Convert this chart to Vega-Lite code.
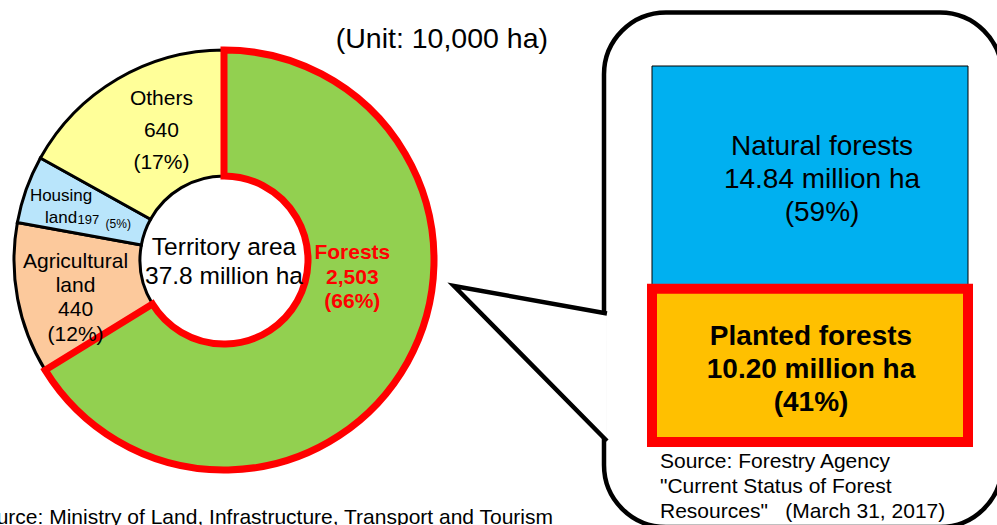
{
  "$schema": "https://vega.github.io/schema/vega-lite/v6.json",
  "width": 997,
  "height": 525,
  "padding": 0,
  "autosize": {"type": "none"},
  "background": "white",
  "config": {"view": {"stroke": null}, "font": "Liberation Sans", "text": {"font": "Liberation Sans"}},
  "datasets": {
    "land": [
      {"category": "Agricultural land", "value": 440, "rank": 2, "label": "Agricultural\nland\n440\n(12%)", "amount": "440", "share": "(12%)"},
      {"category": "Housing land", "value": 197, "rank": 3, "label": "Housing\nland", "amount": "197", "share": "(5%)"},
      {"category": "Others", "value": 640, "rank": 4, "label": "Others\n640\n(17%)", "amount": "640", "share": "(17%)"},
      {"category": "Forests", "value": 2503, "rank": 1, "label": "Forests\n2,503\n(66%)", "amount": "2,503", "share": "(66%)"}
    ],
    "forest": [
      {"group": "Forests", "type": "Natural forests", "value": 1484, "label": "Natural forests\n14.84 million ha\n(59%)"},
      {"group": "Forests", "type": "Planted forests", "value": 1020, "label": "Planted forests\n10.20 million ha\n(41%)"}
    ],
    "note": [{}]
  },
  "layer": [
    {
      "data": {"name": "note"},
      "mark": {"type": "rect", "x": 604, "x2": 1002, "y": 12.5, "y2": 527, "cornerRadius": 62, "fill": "white", "stroke": "black", "strokeWidth": 4.5},
      "encoding": {}
    },
    {
      "data": {"name": "note"},
      "mark": {"type": "point", "x": 454, "y": 286, "shape": "M 0.956 0.172 L 0 0 L 0.956 0.969", "size": 102400, "filled": true, "fill": "white", "stroke": "black", "strokeWidth": 4.5, "opacity": 1, "fillOpacity": 1, "strokeOpacity": 1, "strokeJoin": "miter"},
      "encoding": {}
    },
    {
      "data": {"name": "land"},
      "mark": {"type": "arc", "x": 224, "y": 260, "outerRadius": 210, "innerRadius": 84, "strokeJoin": "miter"},
      "encoding": {
        "theta": {"field": "value", "type": "quantitative", "stack": true},
        "order": {"field": "rank", "type": "quantitative"},
        "color": {"field": "category", "type": "nominal", "legend": null,
          "scale": {"domain": ["Forests", "Agricultural land", "Housing land", "Others", "Natural forests", "Planted forests"], "range": ["#92d050", "#fcc99c", "#b9e5fb", "#ffff99", "#00b0f0", "#ffc000"]}},
        "stroke": {"condition": {"test": "datum.category === 'Forests'", "value": "#ff0000"}, "value": "#000000"},
        "strokeWidth": {"condition": {"test": "datum.category === 'Forests'", "value": 7}, "value": 3}
      }
    },
    {
      "data": {"name": "land"},
      "mark": {"type": "text", "x": 224, "y": 260, "radius": 147, "fontSize": 21, "lineHeight": 32, "lineBreak": "\n", "dx": 12, "dy": -34, "color": "black"},
      "encoding": {
        "theta": {"field": "value", "type": "quantitative", "stack": true},
        "order": {"field": "rank", "type": "quantitative"},
        "detail": {"field": "category", "type": "nominal"},
        "text": {"condition": {"test": "datum.category === 'Others'", "field": "label"}, "value": ""}
      }
    },
    {
      "data": {"name": "land"},
      "mark": {"type": "text", "x": 224, "y": 260, "radius": 147, "fontSize": 21, "lineHeight": 24.3, "lineBreak": "\n", "dx": -4, "dy": -25.5, "color": "black"},
      "encoding": {
        "theta": {"field": "value", "type": "quantitative", "stack": true},
        "order": {"field": "rank", "type": "quantitative"},
        "detail": {"field": "category", "type": "nominal"},
        "text": {"condition": {"test": "datum.category === 'Agricultural land'", "field": "label"}, "value": ""}
      }
    },
    {
      "data": {"name": "land"},
      "mark": {"type": "text", "x": 224, "y": 260, "radius": 147, "fontSize": 17, "lineHeight": 22, "lineBreak": "\n", "dx": -24.5, "dy": -15, "color": "black"},
      "encoding": {
        "theta": {"field": "value", "type": "quantitative", "stack": true},
        "order": {"field": "rank", "type": "quantitative"},
        "detail": {"field": "category", "type": "nominal"},
        "text": {"condition": {"test": "datum.category === 'Housing land'", "field": "label"}, "value": ""}
      }
    },
    {
      "data": {"name": "land"},
      "mark": {"type": "text", "x": 224, "y": 260, "radius": 147, "fontSize": 13, "align": "left", "dx": -8, "dy": 9, "color": "black"},
      "encoding": {
        "theta": {"field": "value", "type": "quantitative", "stack": true},
        "order": {"field": "rank", "type": "quantitative"},
        "detail": {"field": "category", "type": "nominal"},
        "text": {"condition": {"test": "datum.category === 'Housing land'", "field": "amount"}, "value": ""}
      }
    },
    {
      "data": {"name": "land"},
      "mark": {"type": "text", "x": 224, "y": 260, "radius": 147, "fontSize": 12, "align": "left", "dx": 20, "dy": 13, "color": "black"},
      "encoding": {
        "theta": {"field": "value", "type": "quantitative", "stack": true},
        "order": {"field": "rank", "type": "quantitative"},
        "detail": {"field": "category", "type": "nominal"},
        "text": {"condition": {"test": "datum.category === 'Housing land'", "field": "share"}, "value": ""}
      }
    },
    {
      "data": {"name": "land"},
      "mark": {"type": "text", "x": 224, "y": 260, "radius": 147, "fontSize": 21, "fontWeight": "bold", "lineHeight": 24.5, "lineBreak": "\n", "dx": 0, "dy": -78.5, "color": "#ff0000"},
      "encoding": {
        "theta": {"field": "value", "type": "quantitative", "stack": true},
        "order": {"field": "rank", "type": "quantitative"},
        "detail": {"field": "category", "type": "nominal"},
        "text": {"condition": {"test": "datum.category === 'Forests'", "field": "label"}, "value": ""}
      }
    },
    {
      "data": {"name": "note"},
      "mark": {"type": "text", "x": 224, "y": 248, "fontSize": 24.5, "lineHeight": 29, "lineBreak": "\n", "color": "black", "text": "Territory area\n37.8 million ha"},
      "encoding": {}
    },
    {
      "data": {"name": "forest"},
      "mark": {"type": "bar"},
      "encoding": {
        "x": {"field": "group", "type": "nominal", "axis": null, "scale": {"range": [652, 968], "paddingInner": 0, "paddingOuter": 0}},
        "y": {"field": "value", "type": "quantitative", "stack": "zero", "axis": null, "scale": {"domain": [0, 2504], "range": [442, 66], "nice": false, "zero": true}},
        "order": {"field": "type", "sort": "descending"},
        "color": {"field": "type", "type": "nominal", "legend": null,
          "scale": {"domain": ["Forests", "Agricultural land", "Housing land", "Others", "Natural forests", "Planted forests"], "range": ["#92d050", "#fcc99c", "#b9e5fb", "#ffff99", "#00b0f0", "#ffc000"]}},
        "stroke": {"condition": {"test": "datum.type === 'Planted forests'", "value": "#ff0000"}, "value": "#000000"},
        "strokeWidth": {"condition": {"test": "datum.type === 'Planted forests'", "value": 10}, "value": 1}
      }
    },
    {
      "data": {"name": "forest"},
      "transform": [
        {"stack": "value", "groupby": ["group"], "sort": [{"field": "type", "order": "descending"}], "as": ["v0", "v1"]},
        {"filter": "datum.type === 'Natural forests'"}
      ],
      "mark": {"type": "text", "fontSize": 28, "lineHeight": 33, "lineBreak": "\n", "dx": 12, "dy": 81, "color": "black"},
      "encoding": {
        "x": {"field": "group", "type": "nominal", "axis": null, "scale": {"range": [652, 968], "paddingInner": 0, "paddingOuter": 0}},
        "y": {"field": "v1", "type": "quantitative", "axis": null, "scale": {"domain": [0, 2504], "range": [442, 66], "nice": false, "zero": true}},
        "text": {"field": "label"}
      }
    },
    {
      "data": {"name": "forest"},
      "transform": [
        {"stack": "value", "groupby": ["group"], "sort": [{"field": "type", "order": "descending"}], "as": ["v0", "v1"]},
        {"filter": "datum.type === 'Planted forests'"}
      ],
      "mark": {"type": "text", "fontSize": 28, "fontWeight": "bold", "lineHeight": 33, "lineBreak": "\n", "dx": 1, "dy": 48, "color": "black"},
      "encoding": {
        "x": {"field": "group", "type": "nominal", "axis": null, "scale": {"range": [652, 968], "paddingInner": 0, "paddingOuter": 0}},
        "y": {"field": "v1", "type": "quantitative", "axis": null, "scale": {"domain": [0, 2504], "range": [442, 66], "nice": false, "zero": true}},
        "text": {"field": "label"}
      }
    },
    {
      "data": {"name": "note"},
      "mark": {"type": "text", "x": 548, "y": 39, "align": "right", "fontSize": 28.5, "color": "black", "text": "(Unit: 10,000 ha)"},
      "encoding": {}
    },
    {
      "data": {"name": "note"},
      "mark": {"type": "text", "x": 553, "y": 518, "align": "right", "fontSize": 21, "color": "black", "text": "Source: Ministry of Land, Infrastructure, Transport and Tourism"},
      "encoding": {}
    },
    {
      "data": {"name": "note"},
      "mark": {"type": "text", "x": 660, "y": 462, "align": "left", "fontSize": 21, "lineHeight": 25, "lineBreak": "\n", "color": "black", "text": "Source: Forestry Agency\n\"Current Status of Forest\nResources\"\u00a0\u00a0 (March 31, 2017)"},
      "encoding": {}
    }
  ]
}
